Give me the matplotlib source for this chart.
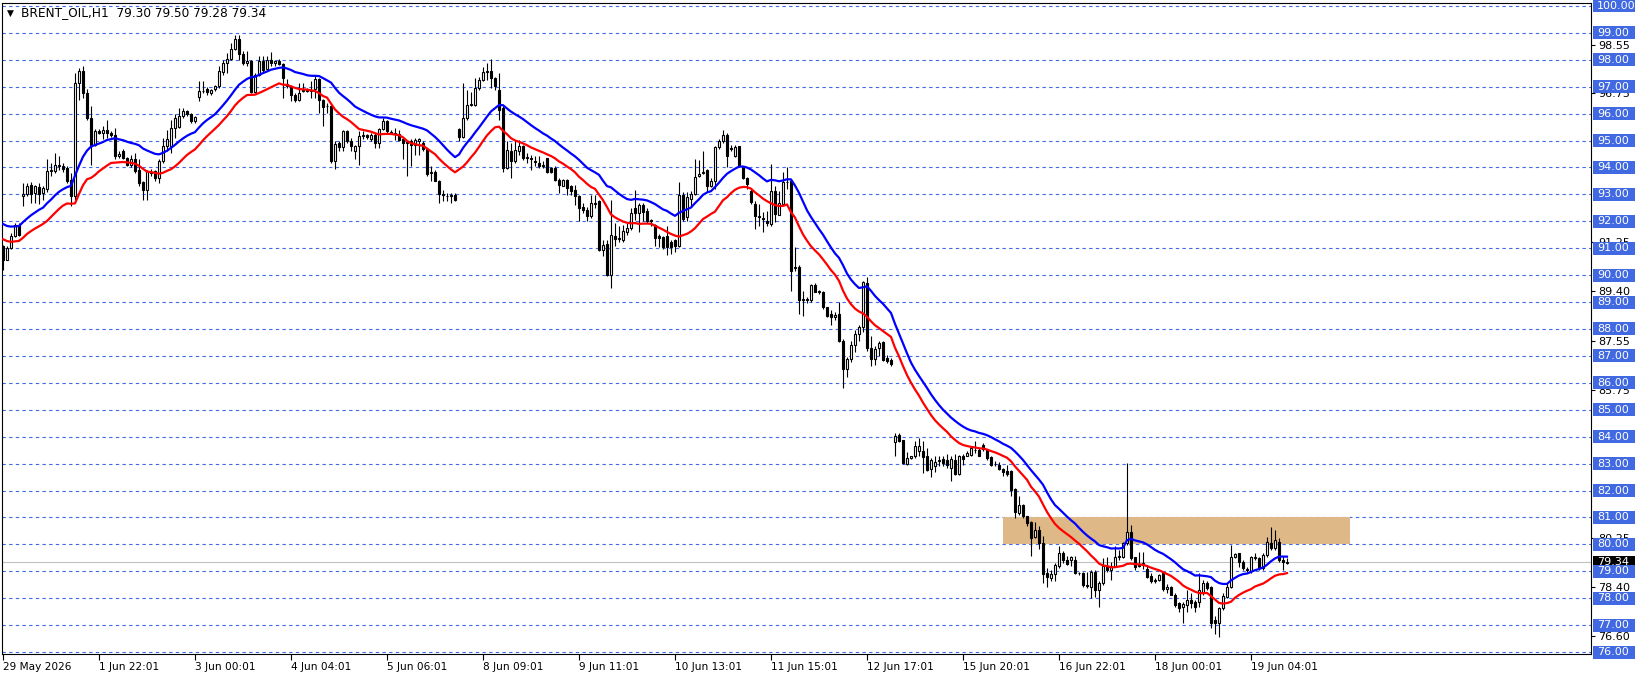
import numpy as np
import pandas as pd
import matplotlib
matplotlib.use("Agg")
import matplotlib.pyplot as plt
from matplotlib.patches import Rectangle
import matplotlib.transforms as mtransforms

symbol = "BRENT_OIL,H1"

# H1 candles (open, high, low, close)
opens = [
    91.08, 90.58, 91.02, 91.45, 91.88, 92.95, 93.00, 93.34, 93.06, 93.27,
    93.06, 93.20, 93.86, 93.86, 94.10, 94.05, 93.98, 93.55, 92.94, 97.14,
    97.58, 96.77, 95.84, 94.85, 95.35, 95.30, 95.41, 95.30, 95.22, 94.43,
    94.60, 94.36, 94.08, 94.30, 93.90, 93.45, 93.18, 93.85, 93.86, 93.60,
    94.24, 94.79, 94.80, 95.47, 95.50, 95.90, 96.09, 95.97, 95.72, 96.62,
    96.83, 96.90, 96.78, 96.90, 97.02, 97.55, 97.89, 98.03, 98.41, 98.78,
    98.20, 97.90, 97.95, 96.80, 97.45, 97.95, 97.66, 98.00, 97.90, 97.95,
    97.86, 97.10, 97.02, 96.71, 96.52, 96.85, 96.88, 96.85, 96.90, 97.29,
    96.52, 96.28, 96.30, 94.24, 94.90, 94.77, 95.35, 95.00, 94.63, 94.80,
    95.16, 95.20, 95.06, 95.22, 94.92, 95.44, 95.72, 95.33, 95.30, 95.23,
    95.06, 94.92, 94.98, 94.85, 95.00, 94.92, 94.67, 93.78, 93.82, 93.51,
    93.02, 92.95, 92.93, 92.99, 95.43, 95.15, 95.83, 96.33, 96.33, 96.95,
    97.26, 97.55, 97.60, 97.32, 96.89, 96.20, 93.98, 94.60, 94.23, 94.60,
    94.78, 94.35, 94.36, 94.25, 94.16, 94.06, 94.35, 93.98, 93.98, 93.54,
    93.33, 93.52, 93.30, 93.17, 92.93, 92.53, 92.41, 92.21, 92.68, 92.74,
    90.95, 91.16, 90.00, 91.44, 91.34, 91.32, 91.60, 91.75, 92.49, 92.31,
    92.62, 92.37, 92.05, 91.87, 91.47, 91.41, 91.47, 91.25, 91.29, 91.08,
    92.96, 92.15, 92.84, 93.02, 93.70, 93.79, 93.89, 93.33, 93.48, 94.75,
    95.00, 95.20, 94.72, 94.44, 94.79, 94.07, 93.60, 93.14, 92.65, 92.19,
    92.12, 92.03, 91.91, 93.11, 92.24, 92.65, 93.47, 93.48, 90.25, 90.30,
    89.06, 89.10, 89.06, 89.62, 89.39, 89.39, 88.81, 88.56, 88.44, 88.56,
    87.57, 86.52, 86.89, 87.39, 87.82, 88.07, 89.70, 87.29, 86.88, 87.29,
    87.50, 86.92, 86.83, 83.79, 84.07, 83.89, 83.00, 83.21, 83.27, 83.46,
    83.46, 83.27, 82.79, 82.90, 83.10, 83.17, 83.12, 82.84, 83.15, 82.63,
    83.29, 83.29, 83.33, 83.52, 83.52, 83.70, 83.52, 83.23, 82.98, 82.96,
    82.80, 82.71, 82.71, 82.06, 81.17, 81.48, 81.04, 80.82, 80.27, 80.55,
    80.05, 78.94, 78.75, 78.88, 79.19, 79.68, 79.43, 79.41, 79.41, 78.95,
    78.95, 78.49, 78.43, 78.99, 78.31, 78.55, 79.20, 79.05, 79.20, 79.54,
    79.54, 80.04, 80.44, 79.52, 79.20, 79.30, 79.07, 78.83, 78.63, 78.68,
    78.93, 78.33, 78.43, 78.12, 77.81, 77.69, 77.75, 77.94, 77.87, 77.87,
    78.24, 78.55, 78.43, 77.19, 77.07, 77.63, 78.05, 78.43, 79.52, 79.67,
    79.36, 79.10, 79.00, 79.49, 79.50, 79.11, 79.60, 80.04, 79.85, 80.10,
    79.40, 79.30,
]
highs = [
    91.12, 91.08, 91.57, 91.92, 91.92, 93.43, 93.43, 93.45, 93.35, 93.43,
    93.30, 94.30, 94.17, 94.54, 94.42, 94.15, 94.05, 93.80, 97.51, 97.70,
    97.76, 96.90, 96.28, 95.42, 95.42, 95.53, 95.78, 95.35, 95.47, 94.60,
    94.70, 94.40, 94.45, 94.54, 94.30, 93.50, 93.90, 93.93, 93.90, 94.30,
    95.10, 95.41, 95.78, 95.97, 96.22, 96.22, 96.15, 96.03, 95.90, 97.20,
    97.20, 97.00, 96.90, 97.08, 97.76, 98.01, 98.26, 98.63, 98.94, 98.94,
    98.32, 98.32, 98.01, 97.51, 98.16, 98.16, 98.16, 98.30, 98.00, 98.04,
    97.90, 97.27, 97.08, 96.77, 97.14, 97.14, 96.95, 97.20, 97.39, 97.33,
    96.55, 96.40, 96.34, 94.98, 94.98, 95.41, 95.38, 95.10, 94.85, 95.35,
    95.35, 95.25, 95.28, 95.29, 95.47, 95.84, 95.78, 95.41, 95.47, 95.41,
    95.10, 94.98, 95.04, 95.10, 95.10, 94.98, 94.73, 94.06, 93.92, 93.55,
    93.17, 93.05, 93.05, 93.05, 95.46, 97.13, 96.89, 96.82, 97.32, 97.38,
    97.75, 97.88, 98.02, 97.38, 97.50, 96.27, 94.97, 94.91, 95.03, 95.03,
    94.84, 94.53, 94.47, 94.41, 94.41, 94.23, 94.36, 94.00, 94.04, 93.60,
    93.57, 93.57, 93.36, 93.36, 92.99, 92.68, 92.55, 92.99, 92.99, 92.80,
    91.32, 91.32, 92.80, 91.94, 91.81, 91.88, 91.94, 92.49, 93.17, 92.68,
    92.68, 92.49, 92.09, 91.91, 91.53, 91.47, 91.84, 91.29, 91.35, 93.45,
    93.08, 93.08, 93.14, 94.32, 94.26, 94.63, 93.95, 93.60, 94.79, 95.06,
    95.40, 95.30, 94.85, 94.84, 94.81, 94.07, 93.64, 93.20, 92.77, 92.65,
    92.36, 92.40, 94.13, 93.33, 93.14, 93.82, 94.01, 93.51, 91.04, 90.36,
    89.43, 89.20, 89.68, 89.72, 89.45, 89.43, 88.81, 88.69, 88.63, 89.00,
    87.64, 86.96, 87.57, 87.95, 88.13, 89.80, 89.95, 87.73, 87.35, 87.54,
    87.54, 87.04, 86.92, 84.14, 84.14, 83.89, 83.42, 83.30, 83.83, 83.95,
    83.83, 83.58, 83.21, 83.27, 83.27, 83.29, 83.37, 83.27, 83.37, 83.33,
    83.37, 83.46, 83.64, 83.83, 83.58, 83.77, 83.54, 83.29, 83.08, 83.05,
    82.84, 82.96, 82.77, 82.09, 81.78, 81.51, 81.07, 80.86, 80.82, 80.67,
    80.30, 79.12, 79.06, 79.31, 79.95, 79.74, 79.56, 79.56, 79.56, 78.99,
    78.99, 78.99, 79.05, 79.05, 78.62, 79.48, 79.54, 79.36, 79.92, 79.79,
    80.10, 83.01, 80.72, 79.54, 79.73, 79.73, 79.24, 78.93, 78.74, 78.90,
    78.99, 78.53, 78.46, 78.18, 77.87, 77.84, 78.31, 78.18, 77.94, 78.93,
    78.68, 78.62, 78.46, 77.32, 77.69, 78.18, 78.55, 79.98, 79.69, 79.69,
    79.42, 79.14, 79.57, 79.67, 79.54, 79.67, 80.29, 80.66, 80.53, 80.23,
    79.57, 79.50,
]
lows = [
    90.21, 90.55, 90.98, 91.40, 91.45, 92.56, 92.95, 92.69, 92.69, 92.63,
    92.81, 93.10, 93.68, 93.80, 93.92, 93.85, 93.43, 92.56, 92.80, 96.50,
    96.60, 95.78, 94.11, 94.80, 95.25, 95.04, 95.10, 95.15, 94.30, 94.35,
    94.30, 94.05, 94.00, 93.80, 93.31, 92.81, 92.81, 93.68, 93.49, 93.43,
    94.17, 94.60, 94.54, 95.10, 95.45, 95.85, 95.90, 95.66, 95.66, 96.46,
    96.75, 96.70, 96.68, 96.85, 96.95, 97.45, 97.50, 98.00, 98.38, 98.01,
    97.82, 97.76, 96.77, 96.77, 97.39, 97.51, 97.64, 97.76, 97.76, 97.82,
    96.59, 96.96, 96.46, 96.43, 96.46, 96.80, 96.80, 96.59, 96.59, 96.03,
    95.53, 96.03, 94.17, 93.93, 94.60, 94.60, 94.92, 94.60, 94.30, 94.11,
    95.04, 95.05, 95.00, 94.73, 94.73, 95.41, 95.29, 95.23, 95.01, 94.98,
    94.30, 93.68, 94.05, 94.48, 94.48, 94.60, 93.68, 93.50, 93.48, 92.68,
    92.74, 92.74, 92.68, 92.74, 94.97, 95.09, 95.77, 96.27, 96.27, 96.89,
    97.20, 97.26, 96.95, 96.89, 95.77, 93.85, 93.95, 93.61, 94.16, 94.47,
    94.29, 94.16, 93.92, 94.04, 93.98, 93.98, 93.79, 93.80, 93.48, 93.07,
    93.30, 92.99, 92.99, 92.62, 92.00, 92.31, 92.00, 92.12, 92.49, 90.88,
    90.70, 89.96, 89.52, 91.07, 91.25, 91.25, 91.50, 91.69, 92.06, 91.59,
    92.00, 91.94, 91.84, 91.10, 91.04, 90.98, 90.75, 90.79, 90.85, 91.04,
    92.03, 92.03, 92.52, 92.96, 93.64, 93.76, 93.08, 93.27, 93.20, 94.69,
    94.90, 94.01, 94.60, 94.38, 94.01, 93.58, 93.20, 92.65, 91.72, 91.84,
    91.60, 91.84, 91.84, 91.97, 92.22, 92.59, 93.20, 89.43, 90.17, 88.56,
    88.50, 88.95, 89.00, 89.37, 89.30, 88.75, 88.44, 88.13, 88.32, 87.51,
    85.80, 86.21, 86.77, 87.14, 87.57, 87.88, 87.20, 86.61, 86.67, 86.98,
    86.80, 86.74, 86.64, 83.27, 83.79, 83.00, 82.96, 83.17, 83.21, 83.27,
    82.65, 82.71, 82.50, 82.68, 82.90, 82.90, 82.84, 82.34, 82.59, 82.59,
    82.96, 83.27, 83.29, 83.39, 83.27, 83.46, 83.15, 82.90, 82.92, 82.77,
    82.55, 82.55, 81.78, 80.98, 81.10, 80.98, 80.67, 79.56, 80.24, 79.83,
    78.57, 78.42, 78.63, 78.63, 79.12, 79.31, 79.25, 79.19, 78.88, 78.86,
    78.43, 78.37, 78.00, 78.06, 77.69, 78.49, 78.99, 78.68, 79.17, 79.42,
    79.48, 79.98, 79.42, 79.05, 79.17, 79.07, 78.74, 78.55, 78.55, 78.62,
    78.28, 78.18, 78.10, 77.69, 77.50, 77.07, 77.50, 77.63, 77.50, 77.69,
    78.12, 78.31, 76.88, 76.67, 76.57, 77.56, 78.00, 78.37, 79.48, 79.17,
    79.05, 78.99, 78.93, 79.42, 79.05, 79.05, 79.54, 79.79, 79.79, 79.36,
    79.05, 79.28,
]
closes = [
    90.58, 91.02, 91.45, 91.88, 91.51, 93.00, 93.31, 93.03, 93.31, 93.03,
    93.25, 93.86, 93.90, 94.11, 94.07, 93.93, 93.49, 92.94, 97.14, 97.58,
    96.77, 95.84, 94.85, 95.35, 95.30, 95.41, 95.29, 95.22, 94.43, 94.50,
    94.36, 94.11, 94.30, 93.86, 93.43, 93.18, 93.86, 93.80, 93.62, 94.24,
    94.79, 95.04, 95.47, 95.84, 95.90, 96.09, 95.97, 95.72, 95.87, 96.83,
    96.86, 96.80, 96.88, 97.04, 97.58, 97.89, 98.03, 98.41, 98.78, 98.20,
    97.89, 97.95, 96.80, 97.45, 97.95, 97.64, 98.00, 97.89, 97.95, 97.86,
    97.33, 97.02, 96.71, 96.52, 96.75, 96.88, 96.85, 96.87, 97.27, 96.52,
    96.25, 96.30, 94.24, 94.89, 94.77, 95.35, 94.98, 94.79, 94.80, 95.16,
    95.20, 95.12, 95.22, 94.92, 95.44, 95.72, 95.35, 95.30, 95.23, 95.01,
    94.92, 94.94, 94.85, 95.01, 95.04, 94.67, 93.74, 93.82, 93.51, 93.02,
    92.98, 92.93, 92.97, 92.80, 95.15, 95.83, 96.33, 96.36, 96.95, 97.26,
    97.53, 97.60, 97.32, 97.01, 96.14, 93.98, 94.66, 94.23, 94.66, 94.78,
    94.35, 94.38, 94.33, 94.20, 94.06, 94.08, 93.85, 93.85, 93.54, 93.36,
    93.52, 93.24, 93.11, 92.95, 92.49, 92.41, 92.21, 92.68, 92.64, 90.95,
    91.13, 90.00, 91.50, 91.34, 91.38, 91.63, 91.75, 92.31, 92.31, 92.62,
    92.33, 92.00, 92.00, 91.37, 91.37, 91.04, 91.04, 91.04, 91.08, 92.96,
    92.09, 92.90, 93.02, 93.64, 93.76, 93.85, 93.33, 93.48, 94.75, 95.00,
    95.20, 94.44, 94.70, 94.75, 94.07, 93.60, 93.39, 92.71, 92.19, 92.15,
    92.08, 91.94, 93.11, 92.28, 92.67, 93.45, 93.45, 90.17, 90.30, 89.06,
    89.10, 89.08, 89.65, 89.39, 89.43, 88.81, 88.50, 88.44, 88.53, 87.57,
    86.52, 86.89, 87.39, 87.82, 88.07, 89.74, 87.29, 86.88, 87.25, 87.48,
    86.86, 86.80, 86.71, 84.01, 83.83, 83.02, 83.21, 83.27, 83.67, 83.67,
    83.25, 82.77, 83.15, 83.05, 83.15, 83.02, 82.96, 83.17, 82.63, 83.27,
    83.17, 83.39, 83.58, 83.50, 83.29, 83.54, 83.21, 82.96, 83.00, 82.80,
    82.68, 82.63, 82.03, 81.19, 81.48, 81.04, 80.79, 80.24, 80.52, 80.05,
    78.88, 78.79, 78.91, 79.25, 79.66, 79.41, 79.28, 79.53, 78.94, 78.92,
    78.49, 78.45, 78.99, 78.31, 78.55, 79.20, 79.05, 79.20, 79.54, 79.57,
    80.04, 80.44, 79.48, 79.17, 79.24, 79.24, 78.80, 78.62, 78.66, 78.86,
    78.33, 78.43, 78.12, 77.75, 77.63, 77.79, 77.94, 77.81, 77.69, 78.31,
    78.58, 78.37, 77.09, 77.07, 77.63, 78.08, 78.43, 79.52, 79.64, 79.36,
    79.11, 79.05, 79.54, 79.52, 79.11, 79.60, 80.10, 79.85, 80.16, 79.42,
    79.36, 79.34,
]

date_labels = ['29 May 2026', '1 Jun 22:01', '3 Jun 00:01', '4 Jun 04:01',
               '5 Jun 06:01', '8 Jun 09:01', '9 Jun 11:01', '10 Jun 13:01',
               '11 Jun 15:01', '12 Jun 17:01', '15 Jun 20:01', '16 Jun 22:01',
               '18 Jun 00:01', '19 Jun 04:01']
bars_per_label = 24

level_lines = list(range(76, 101))
scale_labels = [98.55, 96.75, 91.25, 89.40, 87.55, 85.75, 80.25, 78.40, 76.60]

zone_low, zone_high = 80.0, 81.0
zone_first_bar, zone_last_bar = 250, 336.8

ma_period = 21
ma_seed_high = 91.98   # indicator values at the left edge of the chart
ma_seed_low = 91.45

o = np.array(opens)
h = np.array(highs)
l = np.array(lows)
c = np.array(closes)
idx = np.arange(len(c))


def ema(vals, seed):
    s = pd.Series([seed] + list(vals))
    return s.ewm(span=ma_period, adjust=False).mean().values[1:]


ma_high = ema(h, ma_seed_high)
ma_low = ema(l, ma_seed_low)

W, H = 1641, 679
line_blue = '#4169E1'
plt.rcParams['font.family'] = 'DejaVu Sans'

fig = plt.figure(figsize=(W / 100, H / 100), dpi=100)
ax = fig.add_axes([2 / W, 25 / H, 1589 / W, 651 / H])
ax.set_xlim(-0.25, 397.0)
ax.set_ylim(75.926, 100.111)

for v in level_lines:
    ax.axhline(v, color=line_blue, lw=0.8, ls=(0, (3, 3)), zorder=1)

ax.add_patch(Rectangle((zone_first_bar, zone_low), zone_last_bar - zone_first_bar,
                       zone_high - zone_low, fc='#DEB887', ec='none', zorder=1.5))

ax.axhline(c[-1], color='#C0C0C0', lw=0.8, zorder=2)

# candles
up = c >= o
ax.vlines(idx, l, h, color='black', lw=0.8, zorder=3)
ax.bar(idx[up], (c - o)[up], bottom=o[up], width=0.5, color='white',
       edgecolor='black', lw=0.8, zorder=4)
ax.bar(idx[~up], (o - c)[~up], bottom=c[~up], width=0.5, color='black',
       edgecolor='black', lw=0.8, zorder=4)

ax.plot(idx, ma_high, color='#0000FF', lw=1.6, zorder=5)
ax.plot(idx, ma_low, color='#FF0000', lw=1.6, zorder=5)

for sp in ax.spines.values():
    sp.set_color('black')
    sp.set_linewidth(0.8)

# price scale on the right
ax.yaxis.tick_right()
ax.set_yticks(scale_labels)
ax.set_yticklabels([f"{v:.2f}" for v in scale_labels])
ax.tick_params(axis='y', direction='out', length=3, width=0.8, pad=2,
               labelsize=8, colors='black')

# time scale
ax.set_xticks([k * bars_per_label for k in range(len(date_labels))])
ax.set_xticklabels(date_labels)
ax.tick_params(axis='x', direction='out', length=4, width=0.8, pad=2,
               labelsize=7.6, colors='black')
for lbl in ax.get_xticklabels():
    lbl.set_horizontalalignment('left')

trans = mtransforms.blended_transform_factory(fig.transFigure, ax.transData)
box_h = 13 * (100.111 - 75.926) / 651

ax.add_patch(Rectangle((1593 / W, c[-1] - box_h / 2), 42 / W, box_h, transform=trans,
                       fc='black', ec='none', clip_on=False, zorder=9))
ax.text(1597 / W, c[-1], f"{c[-1]:.2f}", transform=trans, color='white', fontsize=8,
        va='center', ha='left', clip_on=False, zorder=9.5)

for v in level_lines:
    ax.add_patch(Rectangle((1593 / W, v - box_h / 2), 42 / W, box_h, transform=trans,
                           fc=line_blue, ec='none', clip_on=False, zorder=10))
    ax.text(1597 / W, v, f"{v:.2f}", transform=trans, color='white', fontsize=8,
            va='center', ha='left', clip_on=False, zorder=11)

header = f"{symbol}  {o[-1]:.2f} {h[-1]:.2f} {l[-1]:.2f} {c[-1]:.2f}"
fig.text(7 / W, 1 - 13 / H, '\u25BC', fontsize=6.5, va='center', ha='left')
fig.text(21 / W, 1 - 13 / H, header, fontsize=8.7, va='center', ha='left')

fig.savefig('out.png', dpi=100)
